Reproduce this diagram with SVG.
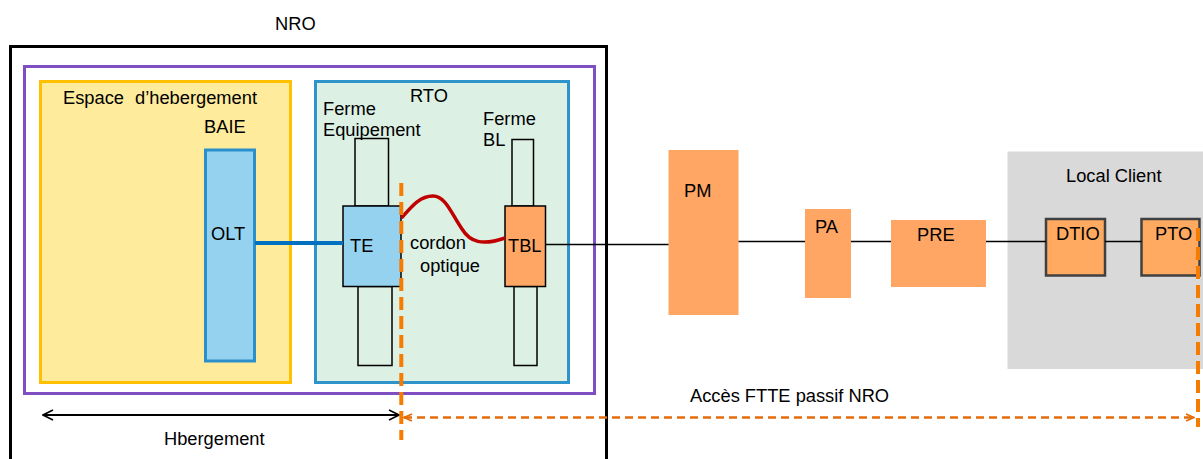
<svg xmlns="http://www.w3.org/2000/svg" width="1203" height="459" viewBox="0 0 1203 459">
<defs>
<style>
text{font-family:"Liberation Sans",Arial,sans-serif;font-size:18.3px;fill:#000}
.orange{fill:#FFA665}
.farm{fill:none;stroke:#000;stroke-width:1.5}
.wire{stroke:#000;stroke-width:1.5;fill:none}
.client{fill:#FFAA60;stroke:#404040;stroke-width:2.5}
</style>
<marker id="openArrow" viewBox="0 0 12 12" refX="11" refY="6" markerWidth="12" markerHeight="12" markerUnits="userSpaceOnUse" orient="auto-start-reverse">
<path d="M1,1 L11,6 L1,11" fill="none" stroke="#000" stroke-width="1.6"/>
</marker>
<marker id="orangeArrow" viewBox="0 0 10 10" refX="9" refY="5" markerWidth="10" markerHeight="10" markerUnits="userSpaceOnUse" orient="auto-start-reverse">
<path d="M1,1.5 L9,5 L1,8.5" fill="none" stroke="#E46C0A" stroke-width="1.8"/>
</marker>
</defs>
<rect width="1203" height="459" fill="#fff"/>

<g id="nro">
<rect x="10.5" y="46.5" width="596" height="430" fill="none" stroke="#000" stroke-width="3"/>
<text x="275" y="30">NRO</text>
</g>
<g id="zone">
<rect x="24.5" y="66.5" width="570" height="327" fill="none" stroke="#7E4EC2" stroke-width="3"/>
</g>
<g id="hebergement">
<rect x="40.5" y="81.5" width="250" height="301" fill="#FFEB9C" stroke="#FFC000" stroke-width="3"/>
<text x="63" y="104" word-spacing="6">Espace d’hebergement</text>
<text x="204" y="133">BAIE</text>
</g>
<g id="rto">
<rect x="315.5" y="81.5" width="253" height="301" fill="#DCF0E4" stroke="#2E94C9" stroke-width="3"/>
<text x="410" y="102">RTO</text>
<text x="323" y="115">Ferme</text>
<text x="323" y="136">Equipement</text>
<text x="483" y="125">Ferme</text>
<text x="483" y="146">BL</text>
</g>
<g id="olt">
<rect x="205.5" y="150" width="49" height="211" fill="#95D2F0" stroke="#2B8FCB" stroke-width="3"/>
<text x="211" y="240">OLT</text>
</g>
<g id="te">
<rect class="farm" x="355" y="138.5" width="33.5" height="67.5"/>
<rect class="farm" x="358" y="286.5" width="34" height="79"/>
<rect x="343" y="206" width="58" height="80.5" fill="#95D2F0" stroke="#000" stroke-width="1.5"/>
<text x="350" y="252">TE</text>
</g>
<g id="tbl">
<rect class="farm" x="512" y="139.5" width="21.5" height="66.5"/>
<rect class="farm" x="514" y="286.5" width="23" height="79"/>
<rect class="orange" x="505" y="206" width="40.5" height="80.5" stroke="#000" stroke-width="1.5"/>
<text x="508" y="252">TBL</text>
</g>
<g id="cordon">
<text x="410" y="249">cordon</text>
<text x="420" y="272">optique</text>
</g>
<g id="pm">
<rect class="orange" x="668.5" y="150" width="70" height="165"/>
<text x="684" y="197">PM</text>
</g>
<g id="pa">
<rect class="orange" x="805" y="209" width="46" height="89"/>
<text x="815" y="233">PA</text>
</g>
<g id="pre">
<rect class="orange" x="891" y="220" width="95" height="67"/>
<text x="917" y="241">PRE</text>
</g>
<g id="local-client">
<rect x="1007.5" y="151.5" width="200" height="217.5" fill="#D9D9D9"/>
<text x="1066" y="182">Local Client</text>
</g>
<g id="dtio">
<rect class="client" x="1046" y="219" width="59" height="56.5"/>
<text x="1056" y="240">DTIO</text>
</g>
<g id="pto">
<rect class="client" x="1141.5" y="219" width="58" height="56.5"/>
<text x="1155" y="240">PTO</text>
</g>
<g id="labels">
<text x="690" y="402">Accès FTTE passif NRO</text>
<text x="164" y="445">Hbergement</text>
</g>

<g id="connectors">
<line x1="255" y1="243" x2="343" y2="243" stroke="#0070C0" stroke-width="4"/>
<path d="M401.5,218 C412,206 420,196 433,196 C446,196 452,215 462,229 C470,242 482,246 505,238" fill="none" stroke="#C00000" stroke-width="3.5"/>
<line class="wire" x1="545.5" y1="244.5" x2="668.5" y2="244.5"/>
<line class="wire" x1="738.5" y1="241.5" x2="805" y2="241.5"/>
<line class="wire" x1="851" y1="241.5" x2="891" y2="241.5"/>
<line class="wire" x1="986" y1="241.5" x2="1046" y2="241.5"/>
<line class="wire" x1="1105" y1="241.5" x2="1141.5" y2="241.5"/>
<line x1="43" y1="415" x2="399" y2="415" stroke="#000" stroke-width="2" marker-start="url(#openArrow)" marker-end="url(#openArrow)"/>
<line x1="404" y1="417.5" x2="1194" y2="417.5" stroke="#E46C0A" stroke-width="2.5" stroke-dasharray="8,5" marker-start="url(#orangeArrow)" marker-end="url(#orangeArrow)"/>
<line x1="401.3" y1="183" x2="401.3" y2="440" stroke="#F57C00" stroke-width="4" stroke-dasharray="13,6"/>
<line x1="1198" y1="228" x2="1198" y2="427" stroke="#F57C00" stroke-width="4" stroke-dasharray="13,6"/>
</g>
</svg>
